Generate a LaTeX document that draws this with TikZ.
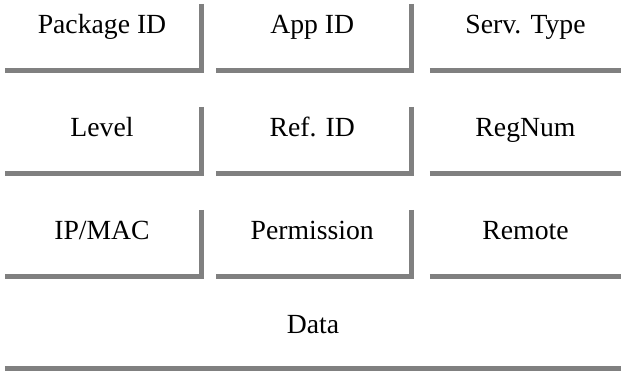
\documentclass[tikz,border=0pt]{standalone}
\usepackage{fontspec}
\setmainfont{Liberation Serif}
\usetikzlibrary{positioning}
\definecolor{rulegray}{RGB}{128,128,128}

\begin{document}
\begin{tikzpicture}[
        x=1pt, y=-1pt,
        every node/.style={align=center, font=\fontsize{27.7}{32}\selectfont},
        cell/.style={inner sep=0pt, anchor=base, text height=30pt, text depth=33.5pt},
        rule/.style={draw=rulegray, line width=5pt}
    ]
    \useasboundingbox (0,0) rectangle (621,371);
    % row 1
    \node[cell, minimum width=194pt]   (pkg)    at (102,34)     {Package ID};
    \node[cell, minimum width=192.5pt] (app)    at (312.25,34)  {App ID};
    \node[cell, minimum width=191pt]   (serv)   at (525.5,34)   {Serv. Type};
    % row 2
    \node[cell, minimum width=194pt]   (lvl)    at (102,137)    {Level};
    \node[cell, minimum width=192.5pt] (ref)    at (312.25,137) {Ref. ID};
    \node[cell, minimum width=191pt]   (reg)    at (525.5,137)  {RegNum};
    % row 3
    \node[cell, minimum width=194pt]   (ip)     at (102,240)    {IP/MAC};
    \node[cell, minimum width=192.5pt] (perm)   at (312.25,240) {Permission};
    \node[cell, minimum width=191pt]   (remote) at (525.5,240)  {Remote};
    % payload
    \node[cell, minimum width=616pt, text depth=32.5pt] (data) at (313,333) {Data};

    % right and bottom edges
    \foreach \c in {pkg,app,lvl,ref,ip,perm}
        \draw[rule] ([xshift=2.5pt]\c.north east) |- ([yshift=-2.5pt]\c.south west);
    \foreach \c in {serv,reg,remote,data}
        \draw[rule] ([yshift=-2.5pt]\c.south west) -- ([yshift=-2.5pt]\c.south east);
\end{tikzpicture}
\end{document}
